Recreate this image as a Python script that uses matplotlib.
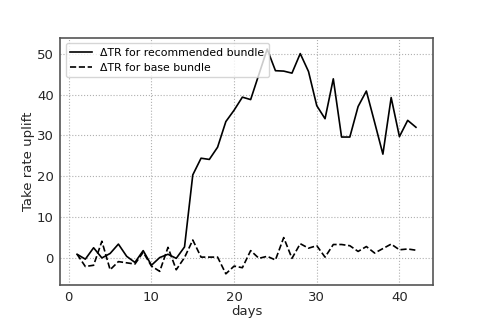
import numpy as np
import matplotlib
matplotlib.use("Agg")
import matplotlib.pyplot as plt

# days 1..42
days = np.arange(1, 43)

# uplift in take rate for recommended bundle
tr_recommended = [0.8, -0.4, 2.4, -0.1, 1.0, 3.3, 0.3, -1.2, 1.7, -1.9,
                  0.0, 0.8, -0.2, 2.6, 20.3, 24.4, 24.1, 27.1, 33.4, 36.2,
                  39.4, 38.8, 45.0, 51.2, 45.9, 45.8, 45.3, 50.1, 45.7, 37.3,
                  34.1, 43.9, 29.6, 29.6, 37.1, 40.9, 33.2, 25.4, 39.3, 29.7,
                  33.7, 32.0]

# uplift in take rate for base bundle
tr_base = [0.8, -2.2, -1.9, 4.0, -3.0, -1.0, -1.3, -1.6, 1.3, -2.1,
           -3.4, 2.5, -3.0, 0.0, 4.3, 0.1, 0.1, 0.1, -4.0, -2.1,
           -2.5, 1.7, -0.2, 0.3, -0.6, 4.9, -0.2, 3.4, 2.3, 2.9,
           0.1, 3.2, 3.2, 2.9, 1.5, 2.7, 1.1, 2.2, 3.3, 1.9,
           2.1, 1.8]

fig = plt.figure(figsize=(4.81, 3.21), dpi=100)
ax = fig.add_subplot(111)
fig.subplots_adjust(left=0.125, right=0.9, top=0.882, bottom=0.112)

ax.plot(days, tr_recommended, color='black', linestyle='-', lw=1.2,
        label='ΔTR for recommended bundle')
ax.plot(days, tr_base, color='black', linestyle='--', lw=1.2,
        label='ΔTR for base bundle')

ax.set_xlabel('days', color='#262626', fontsize=9.5, labelpad=0.5)
ax.set_ylabel('Take rate uplift', color='#262626', fontsize=9.5, labelpad=1.5)
ax.set_xticks([0, 10, 20, 30, 40])
ax.set_yticks([0, 10, 20, 30, 40, 50])
ax.tick_params(length=0, pad=4.5, labelcolor='#262626', labelsize=9.5)
for sp in ax.spines.values():
    sp.set_color('#555555')
    sp.set_linewidth(1.2)
ax.grid(True, linestyle=':', color='#b0b0b0')
ax.legend(loc='upper left', fontsize=7.8)

fig.savefig('out.png', dpi=100)
